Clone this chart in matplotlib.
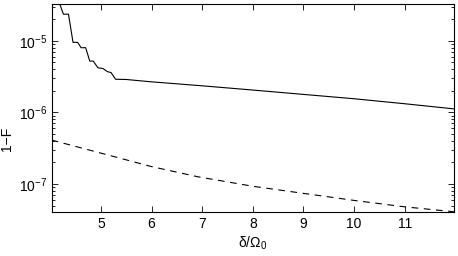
import numpy as np
import matplotlib.pyplot as plt

plt.rcParams['font.family'] = ['Liberation Sans', 'DejaVu Sans']
plt.rcParams['mathtext.fontset'] = 'custom'
plt.rcParams['mathtext.rm'] = 'Liberation Sans'
plt.rcParams['mathtext.it'] = 'Liberation Sans'

# solid curve (1-F)
x_solid = [4.18, 4.26, 4.36, 4.45, 4.54, 4.61, 4.70, 4.78, 4.85, 4.94, 5.04,
           5.13, 5.20, 5.29, 5.5, 5.97, 7.0, 8.0, 8.93, 10.0, 11.0, 11.97]
y_solid = [3.4e-5, 2.35e-5, 2.35e-5, 9.5e-6, 9.5e-6, 8.0e-6, 8.0e-6, 5.2e-6,
           5.2e-6, 4.2e-6, 4.1e-6, 3.7e-6, 3.6e-6, 2.9e-6, 2.88e-6, 2.68e-6,
           2.35e-6, 2.05e-6, 1.8e-6, 1.55e-6, 1.32e-6, 1.12e-6]

# dashed curve
x_dash = [4.03, 5.0, 6.0, 6.92, 8.0, 9.0, 10.0, 11.0, 11.97]
y_dash = [4.1e-7, 2.7e-7, 1.75e-7, 1.26e-7, 9.3e-8, 7.4e-8, 5.9e-8, 4.8e-8, 4.1e-8]

fig = plt.figure(figsize=(4.58, 2.56), dpi=100)
ax = fig.add_axes([0.113, 0.172, 0.878, 0.812])
ax.semilogy(x_solid, y_solid, 'k-', lw=0.8)
ax.semilogy(x_dash, y_dash, 'k--', lw=0.8, dashes=(6, 5))

ax.set_xlim(4.03, 11.97)
ax.set_ylim(4.07e-8, 3.25e-5)
ax.set_xticks([5, 6, 7, 8, 9, 10, 11])
ax.tick_params(which='both', direction='in', top=True, right=True,
               labelsize=10, width=0.6)
ax.tick_params(which='major', length=4)
ax.tick_params(which='minor', length=2)
for s in ax.spines.values():
    s.set_linewidth(0.8)

ax.set_xlabel(r'$\delta/\Omega_0$', fontsize=10, labelpad=3)
ax.set_ylabel('1\u2212F', fontsize=10)
ax.yaxis.set_label_coords(-0.093, 0.35)

fig.savefig('out.png', dpi=100)
